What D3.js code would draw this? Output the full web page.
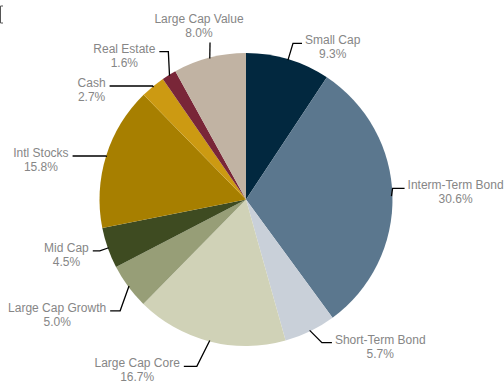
<!DOCTYPE html>
<html>
<head>
<meta charset="utf-8">
<script src="https://cdn.jsdelivr.net/npm/d3@7"></script>
<style>
  body { margin: 0; background: #fff; }
  text { font-family: "Liberation Sans", Arial, sans-serif; font-size: 12px; fill: #868686; }
</style>
</head>
<body>
<div id="chart"></div>
<script>
var categories = ['Small Cap', 'Interm-Term Bond', 'Short-Term Bond', 'Large Cap Core', 'Large Cap Growth',
  'Mid Cap', 'Intl Stocks', 'Cash', 'Real Estate', 'Large Cap Value'];
var values = [9.3, 30.6, 5.7, 16.7, 5.0, 4.5, 15.8, 2.7, 1.6, 8.0];
var colors = ['#02283f', '#5b778e', '#c9d0d9', '#d0d2b7', '#979e77', '#3e4b21', '#a77f00', '#cc9a12', '#792638', '#c1b3a3'];

// leader line layout: elbow radius, angle shift (deg), tail length
var elbowR = [163, 147, 162, 174, 168, 155, 147, 147, 167, 161];
var elbowShift = [0, -3, -2, 2, -5, 0, 0, 0, 4, 1.5];
var tailLen = [9, 12, 10, 13, 10, 7, 33, 43, 9, 0];

var width = 504, height = 383;
var cx = 246, cy = 199.5, radius = 146.5;

var svg = d3.select('#chart').append('svg').attr('width', width).attr('height', height);

// little mark at the top-left corner
svg.append('path').attr('d', 'M3,6H0.5V23H3').attr('fill', 'none').attr('stroke', '#555').attr('stroke-width', 1);

var pie = d3.pie().sort(null).value(function(d) { return d; });
var arcs = pie(values);
var arc = d3.arc().innerRadius(0).outerRadius(radius);

var g = svg.append('g').attr('transform', 'translate(' + cx + ',' + cy + ')');

g.selectAll('path.slice').data(arcs).enter().append('path')
  .attr('class', 'slice')
  .attr('d', arc)
  .attr('fill', function(d, i) { return colors[i]; });

function polar(angle, r) {
  return [Math.sin(angle) * r, -Math.cos(angle) * r];
}

arcs.forEach(function(d, i) {
  var mid = (d.startAngle + d.endAngle) / 2;
  var start = polar(mid, radius - 1);
  var elbow = polar(mid + elbowShift[i] * Math.PI / 180, elbowR[i]);
  var right = Math.sin(mid) > 0;
  var end = [elbow[0] + (right ? tailLen[i] : -tailLen[i]), elbow[1]];

  g.append('path')
    .attr('d', 'M' + start + 'L' + elbow + 'L' + end)
    .attr('fill', 'none')
    .attr('stroke', '#000')
    .attr('stroke-width', 1.3);

  var label = g.append('g');
  var t1 = label.append('text').text(categories[i]);
  var t2 = label.append('text').text(values[i].toFixed(1) + '%');
  var w = t1.node().getComputedTextLength();
  var x0, y0;
  if (tailLen[i] === 0) {
    x0 = end[0] - 11 - w / 2;
    y0 = end[1] - 20;
  } else if (right) {
    x0 = end[0] + 3;
    y0 = end[1] + 1;
  } else {
    x0 = end[0] - 4 - w;
    y0 = end[1] + 1;
  }
  t1.attr('x', x0).attr('y', y0);
  t2.attr('x', x0 + w / 2).attr('y', y0 + 14).attr('text-anchor', 'middle');
});
</script>
</body>
</html>
